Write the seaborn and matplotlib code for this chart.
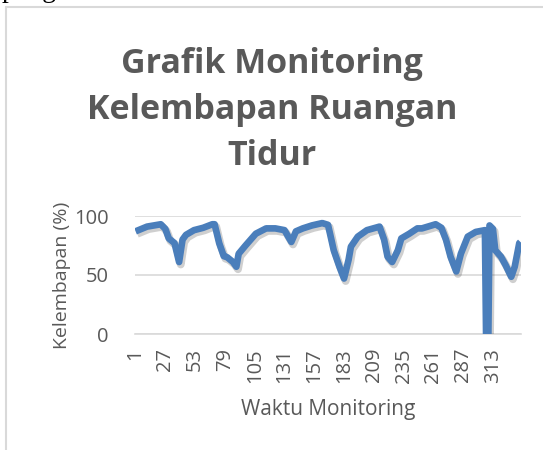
import matplotlib
matplotlib.use("Agg")
import matplotlib.pyplot as plt
import matplotlib.patheffects as pe
from matplotlib.lines import Line2D
import seaborn as sns
import pandas as pd

# ---- data ----
waktu = [1, 11, 23, 27, 30, 35, 39, 42, 45, 52, 60, 68, 70, 74, 78, 81, 86, 89, 91,
         97, 106, 115, 123, 131, 137, 141, 147, 155, 164, 169, 171, 174, 179, 183,
         187, 189, 195, 203, 214, 218, 221, 225, 230, 233, 240, 247, 251, 263, 268,
         272, 276, 281, 285, 291, 298, 306, 307, 309, 310, 313, 315, 320, 324, 329,
         332, 336, 337]
kelembapan = [87, 91, 93, 89, 81, 77, 61, 80, 84, 88, 90, 93, 93, 77, 66, 65, 61, 57, 68,
              75, 85, 89.5, 89.5, 88, 78, 87, 89.5, 92, 94, 92.5, 84, 71, 57, 47,
              63, 74, 82.5, 88, 91, 80, 65.5, 61, 71, 81, 85, 89.5, 89.5, 93, 90,
              80, 65.5, 53, 68, 82.5, 86.5, 88, 0, 0, 92, 89, 71, 65.5, 58.5, 48.5,
              57, 77, 78]
n_kategori = 337
x_ticks = [1, 27, 53, 79, 105, 131, 157, 183, 209, 235, 261, 287, 313]
y_ticks = [0, 50, 100]

judul = "Grafik Monitoring\nKelembapan Ruangan\nTidur"
label_x = "Waktu Monitoring"
label_y = "Kelembapan (%)"

sns.set_theme(style="white")
plt.rcParams['font.family'] = ['Open Sans', 'DejaVu Sans']

W, H = 543, 450
fig = plt.figure(figsize=(W / 100, H / 100), dpi=100)
fig.patch.set_facecolor("white")

ax = fig.add_axes([135 / W, 1 - 334 / H, (521 - 135) / W, (334 - 216) / H])

df = pd.DataFrame({"waktu": waktu, "kelembapan": kelembapan})
line_color = "#4A7EBB"
sns.lineplot(data=df, x="waktu", y="kelembapan", ax=ax, color=line_color,
             linewidth=4.8, zorder=3)
for ln in ax.get_lines():
    ln.set_solid_joinstyle("round")
    ln.set_solid_capstyle("butt")
    ln.set_path_effects([pe.SimpleLineShadow(offset=(1.2, -1.8), shadow_color="#404040",
                                             alpha=0.25, linewidth=5.6),
                         pe.Normal()])

ax.set_xlim(0.5, n_kategori + 0.5)
ax.set_ylim(0, 100)
ax.set_yticks(y_ticks)
ax.set_xticks(x_ticks)
ax.set_xticklabels([str(t) for t in x_ticks], rotation=90, va="top")
ax.tick_params(axis="both", length=0, colors="#595959", labelsize=14.5)
ax.tick_params(axis="y", pad=19)
ax.tick_params(axis="x", pad=10)
ax.grid(axis="y", color="#d9d9d9", linewidth=1.2)
ax.grid(axis="x", visible=False)
for s in ["top", "right", "left"]:
    ax.spines[s].set_visible(False)
ax.spines["bottom"].set_color("#d9d9d9")
ax.spines["bottom"].set_linewidth(1.2)
ax.set_xlabel("")
ax.set_ylabel("")
ax.set_facecolor("none")

# Axis titles
fig.text(62 / W, 1 - 275 / H, label_y, rotation=90, ha="center", va="center",
         color="#595959", fontsize=14)
fig.text(328 / W, 1 - 410 / H, label_x, ha="center", va="center",
         color="#595959", fontsize=15)

# Chart title
fig.text(272 / W, 1 - 110 / H, judul, ha="center", va="center", color="#595959",
         fontsize=24.5, fontweight="bold", linespacing=1.45)

# Chart area border (light grey) and clipped document text above it
fig.add_artist(Line2D([6 / W, 6 / W], [0, 1 - 7 / H], transform=fig.transFigure,
                      color="#d9d9d9", linewidth=1.5))
fig.add_artist(Line2D([6 / W, 1], [1 - 7 / H, 1 - 7 / H], transform=fig.transFigure,
                      color="#d9d9d9", linewidth=1.5))
fig.text(2 / W, 1 + 3 / H, "pengambilan data.", ha="left", va="baseline",
         family="Liberation Serif", fontsize=20, color="black")

fig.savefig("out.png", dpi=100)
